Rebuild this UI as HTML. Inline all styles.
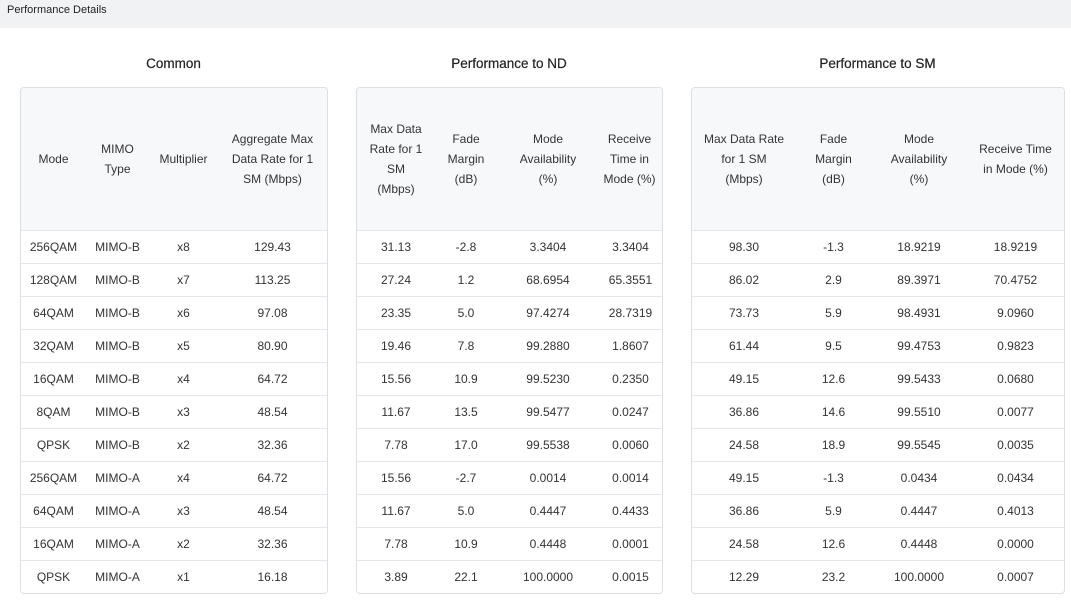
<!DOCTYPE html>
<html><head><meta charset="utf-8"><style>
body{margin:0;width:1071px;height:600px;background:#fff;font-family:"Liberation Sans",sans-serif;color:#333;overflow:hidden;position:relative}
.top{position:absolute;left:0;top:0;width:1071px;height:28px;background:#f1f2f4;font-size:11px;line-height:20px;padding-left:7px;box-sizing:border-box;color:#222}
.title{position:absolute;top:56px;font-size:13.5px;font-weight:normal;color:#222;text-align:center;-webkit-text-stroke:0.2px #222}
.box{position:absolute;top:87px;border:1px solid #dcdfe3;border-radius:4px;overflow:hidden;box-sizing:border-box}
table{border-collapse:collapse;table-layout:fixed;width:100%;font-size:12px}
th{height:142px;background:#f7f8fa;font-weight:normal;line-height:20px;padding:0 10px;text-align:center;vertical-align:middle}
td{height:32px;border-top:1px solid #e4e6e9;text-align:center;padding:0}
</style></head><body>
<div class="top">Performance Details</div>
<div class="title" style="left:20px;width:307px">Common</div>
<div class="title" style="left:356px;width:306px">Performance to ND</div>
<div class="title" style="left:691px;width:373px">Performance to SM</div>

<div class="box" style="left:20px;width:308px"><table>
<colgroup><col style="width:65px"><col style="width:63px"><col style="width:69px"><col></colgroup>
<tr><th style="padding:0 4px">Mode</th><th style="padding:0 4px">MIMO<br>Type</th><th style="padding:0 2px">Multiplier</th><th>Aggregate Max Data Rate for 1 SM (Mbps)</th></tr>
<tr><td>256QAM</td><td>MIMO-B</td><td>x8</td><td>129.43</td></tr>
<tr><td>128QAM</td><td>MIMO-B</td><td>x7</td><td>113.25</td></tr>
<tr><td>64QAM</td><td>MIMO-B</td><td>x6</td><td>97.08</td></tr>
<tr><td>32QAM</td><td>MIMO-B</td><td>x5</td><td>80.90</td></tr>
<tr><td>16QAM</td><td>MIMO-B</td><td>x4</td><td>64.72</td></tr>
<tr><td>8QAM</td><td>MIMO-B</td><td>x3</td><td>48.54</td></tr>
<tr><td>QPSK</td><td>MIMO-B</td><td>x2</td><td>32.36</td></tr>
<tr><td>256QAM</td><td>MIMO-A</td><td>x4</td><td>64.72</td></tr>
<tr><td>64QAM</td><td>MIMO-A</td><td>x3</td><td>48.54</td></tr>
<tr><td>16QAM</td><td>MIMO-A</td><td>x2</td><td>32.36</td></tr>
<tr><td>QPSK</td><td>MIMO-A</td><td>x1</td><td>16.18</td></tr>
</table></div>

<div class="box" style="left:356px;width:307px"><table>
<colgroup><col style="width:78px"><col style="width:62px"><col style="width:102px"><col></colgroup>
<tr><th>Max Data Rate for 1 SM (Mbps)</th><th>Fade Margin (dB)</th><th style="padding:0 18px">Mode Availability (%)</th><th style="padding:0 2px 0 0">Receive Time in Mode (%)</th></tr>
<tr><td>31.13</td><td>-2.8</td><td>3.3404</td><td>3.3404</td></tr>
<tr><td>27.24</td><td>1.2</td><td>68.6954</td><td>65.3551</td></tr>
<tr><td>23.35</td><td>5.0</td><td>97.4274</td><td>28.7319</td></tr>
<tr><td>19.46</td><td>7.8</td><td>99.2880</td><td>1.8607</td></tr>
<tr><td>15.56</td><td>10.9</td><td>99.5230</td><td>0.2350</td></tr>
<tr><td>11.67</td><td>13.5</td><td>99.5477</td><td>0.0247</td></tr>
<tr><td>7.78</td><td>17.0</td><td>99.5538</td><td>0.0060</td></tr>
<tr><td>15.56</td><td>-2.7</td><td>0.0014</td><td>0.0014</td></tr>
<tr><td>11.67</td><td>5.0</td><td>0.4447</td><td>0.4433</td></tr>
<tr><td>7.78</td><td>10.9</td><td>0.4448</td><td>0.0001</td></tr>
<tr><td>3.89</td><td>22.1</td><td>100.0000</td><td>0.0015</td></tr>
</table></div>

<div class="box" style="left:691px;width:374px"><table>
<colgroup><col style="width:104px"><col style="width:75px"><col style="width:96px"><col></colgroup>
<tr><th style="padding:0 4px">Max Data Rate<br>for 1 SM<br>(Mbps)</th><th style="padding:0 18px">Fade Margin (dB)</th><th style="padding:0 14px">Mode Availability (%)</th><th style="padding:0 8px">Receive Time in Mode (%)</th></tr>
<tr><td>98.30</td><td>-1.3</td><td>18.9219</td><td>18.9219</td></tr>
<tr><td>86.02</td><td>2.9</td><td>89.3971</td><td>70.4752</td></tr>
<tr><td>73.73</td><td>5.9</td><td>98.4931</td><td>9.0960</td></tr>
<tr><td>61.44</td><td>9.5</td><td>99.4753</td><td>0.9823</td></tr>
<tr><td>49.15</td><td>12.6</td><td>99.5433</td><td>0.0680</td></tr>
<tr><td>36.86</td><td>14.6</td><td>99.5510</td><td>0.0077</td></tr>
<tr><td>24.58</td><td>18.9</td><td>99.5545</td><td>0.0035</td></tr>
<tr><td>49.15</td><td>-1.3</td><td>0.0434</td><td>0.0434</td></tr>
<tr><td>36.86</td><td>5.9</td><td>0.4447</td><td>0.4013</td></tr>
<tr><td>24.58</td><td>12.6</td><td>0.4448</td><td>0.0000</td></tr>
<tr><td>12.29</td><td>23.2</td><td>100.0000</td><td>0.0007</td></tr>
</table></div>
</body></html>
